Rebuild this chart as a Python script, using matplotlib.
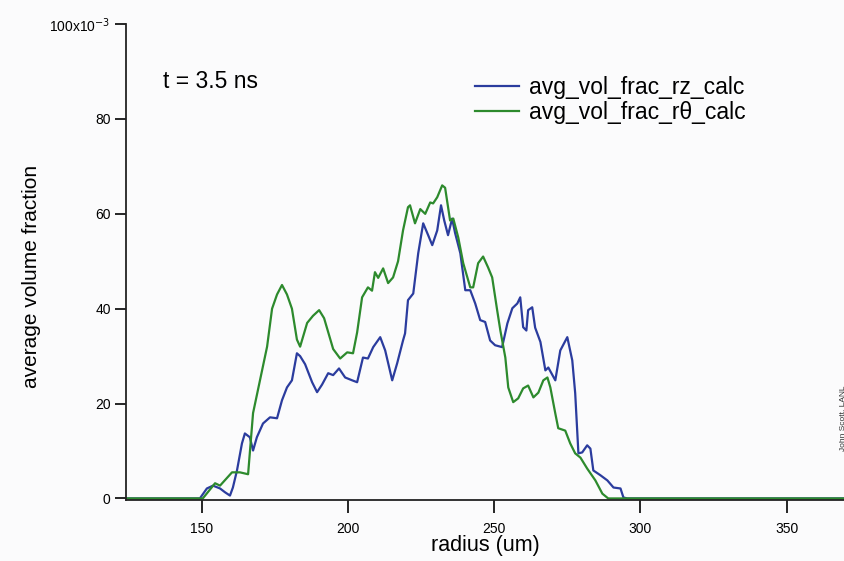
import matplotlib
matplotlib.use('Agg')
import matplotlib.pyplot as plt

plt.rcParams['font.family'] = ['Liberation Sans', 'DejaVu Sans']

# radius (um) / average volume fraction (x1e-3)
r_rz = [124.0, 149.3, 151.7, 153.8, 156.2, 157.9, 159.6, 160.6, 162.0, 163.7,
        164.7, 166.4, 167.5, 168.8, 170.9, 173.3, 175.7, 177.4, 179.1, 180.8,
        182.5, 183.6, 185.3, 187.7, 189.4, 191.1, 193.2, 194.9, 196.9, 199.0,
        201.4, 203.1, 205.1, 206.8, 208.6, 211.0, 212.7, 215.1, 216.8, 218.8,
        219.5, 220.5, 222.3, 224.0, 225.7, 227.4, 228.8, 230.5, 231.8, 232.9,
        234.2, 235.6, 236.6, 238.4, 240.1, 241.8, 243.5, 245.2, 246.9, 248.6,
        250.3, 252.7, 254.5, 256.2, 257.9, 258.9, 259.9, 261.0, 261.6, 263.0,
        264.0, 265.8, 267.5, 268.5, 270.9, 272.6, 275.0, 276.7, 277.7, 278.8,
        280.1, 281.8, 282.9, 283.9, 286.3, 288.7, 290.8, 293.2, 294.2, 295.5,
        370.5]
v_rz = [0, 0, 2.1, 2.7, 2.1, 1.3, 0.6, 2.3, 5.9, 11.6,
        13.7, 12.9, 10.1, 12.9, 15.8, 17.1, 16.9, 20.7, 23.4, 24.9,
        30.6, 30.0, 28.3, 24.5, 22.4, 24.0, 26.4, 26.0, 27.4, 25.5,
        24.9, 24.5, 29.7, 29.5, 31.9, 34.0, 31.2, 24.9, 28.5, 33.3,
        34.8, 41.8, 43.2, 51.7, 58.0, 55.5, 53.4, 56.5, 61.8, 58.6,
        55.5, 59.0, 56.0, 51.7, 43.9, 43.9, 41.1, 37.6, 37.2, 33.3,
        32.3, 31.9, 36.9, 40.1, 41.1, 42.4, 36.1, 35.4, 39.7, 40.3,
        36.0, 33.0, 27.0, 27.6, 24.9, 31.2, 34.0, 29.1, 22.2, 9.5,
        9.7, 11.2, 10.5, 5.9, 4.9, 3.8, 2.3, 2.1, 0.2, 0,
        0]

r_rt = [124.0, 150.3, 154.5, 156.2, 160.3, 163.0, 165.8, 167.5, 169.9, 172.3,
        174.0, 175.7, 177.4, 179.1, 180.8, 182.5, 183.6, 186.0, 188.0, 190.1,
        191.8, 194.9, 197.3, 199.7, 201.7, 203.1, 204.8, 206.8, 208.2, 209.2,
        210.3, 212.0, 213.7, 215.4, 217.1, 218.8, 220.5, 221.2, 222.9, 224.7,
        226.4, 228.1, 229.1, 230.5, 232.2, 233.2, 234.9, 236.0, 237.7, 239.4,
        241.8, 242.8, 244.5, 246.2, 247.9, 249.3, 251.0, 252.1, 253.8, 254.8,
        256.5, 258.2, 259.9, 261.6, 263.4, 265.1, 266.8, 268.2, 269.2, 270.9,
        271.9, 274.3, 276.0, 277.7, 279.5, 281.8, 284.6, 287.0, 289.0, 370.5]
v_rt = [0, 0, 3.2, 2.7, 5.5, 5.5, 5.1, 18.0, 25.0, 32.0,
        40.0, 43.0, 45.0, 43.0, 40.0, 33.5, 32.0, 37.0, 38.5, 39.7,
        38.0, 31.5, 29.5, 30.8, 30.6, 35.0, 42.4, 44.5, 43.8, 47.7,
        46.5, 48.5, 45.4, 46.6, 50.0, 56.5, 61.4, 61.8, 58.0, 61.0,
        60.0, 62.4, 62.2, 63.5, 66.0, 65.5, 58.6, 59.0, 55.0, 49.6,
        44.5, 44.5, 49.6, 51.0, 48.7, 46.6, 39.7, 35.4, 29.7, 23.4,
        20.3, 21.1, 23.2, 23.8, 21.3, 22.3, 24.9, 25.5, 23.4, 17.9,
        14.8, 14.3, 11.6, 9.5, 8.6, 6.3, 3.8, 1.0, 0, 0]

x_ticks = [150, 200, 250, 300, 350]
y_ticks = [0, 20, 40, 60, 80, 100]
y_tick_labels = ['0', '20', '40', '60', '80', '100x10$^{-3}$']

fig = plt.figure(figsize=(8.45, 5.61), dpi=100, facecolor='#fbfbfc')
ax = fig.add_axes([0.149, 0.109, 0.851, 0.848])
ax.set_facecolor('#fbfbfc')

ax.plot(r_rz, v_rz, color='#2b3c9e', lw=1.6, label='avg_vol_frac_rz_calc')
ax.plot(r_rt, v_rt, color='#2d8a2d', lw=1.6, label='avg_vol_frac_r\u03b8_calc')

ax.set_xlim(124, 370)
ax.set_ylim(-0.3, 100)
ax.set_xticks(x_ticks)
ax.set_yticks(y_ticks)
ax.set_yticklabels(y_tick_labels)
ax.tick_params(axis='x', direction='out', length=9, width=1.2, labelsize=10, pad=7)
ax.tick_params(axis='y', direction='out', length=8, width=1.2, labelsize=10, pad=3)

for s in ['top', 'right']:
    ax.spines[s].set_visible(False)
for s in ['left', 'bottom']:
    ax.spines[s].set_linewidth(1.3)
    ax.spines[s].set_color('#222222')

ax.set_xlabel('radius (um)', fontsize=15.5, labelpad=-1)
ax.set_ylabel('average volume fraction', fontsize=15)
ax.yaxis.set_label_coords(-0.118, 0.47)

fig.text(163 / 845, 1 - 88 / 561, 't = 3.5 ns', fontsize=16.5, va='baseline')

ax.legend(loc='upper left', bbox_to_anchor=(475 / 845, 1 - 76 / 561),
          bbox_transform=fig.transFigure, frameon=False,
          fontsize=16.5, handlelength=1.9, handletextpad=0.45, labelspacing=0.1,
          borderpad=0, borderaxespad=0)

fig.text(0.993, 0.2, 'John Scott, LANL', rotation=90, fontsize=6, color='#333333')

fig.savefig('out.png', dpi=100, facecolor=fig.get_facecolor())
